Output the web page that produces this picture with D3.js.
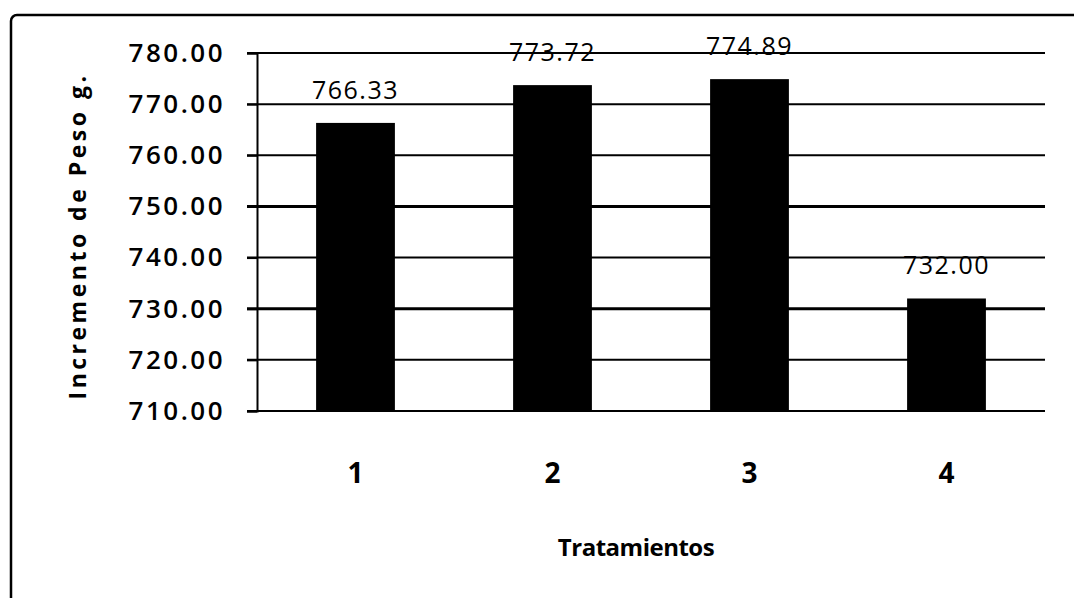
<!DOCTYPE html>
<html>
<head>
<meta charset="utf-8">
<script src="https://cdn.jsdelivr.net/npm/d3@7"></script>
<style>
  html, body { margin: 0; padding: 0; background: #fff; }
  svg { display: block; }
  text { font-family: "Open Sans", "DejaVu Sans", sans-serif; fill: #000; }
</style>
</head>
<body>
<svg id="chart" width="1074" height="598"></svg>
<script>
const categories = ["1", "2", "3", "4"];
const values = [766.33, 773.72, 774.89, 732.00];
const yTicks = [710, 720, 730, 740, 750, 760, 770, 780];
const yTitle = "Incremento de Peso g.";
const xTitle = "Tratamientos";

const W = 1074, H = 598;
const margin = { left: 257, right: 29, top: 53, bottom: 187 };
const svg = d3.select("#chart");

// frame
svg.append("rect")
  .attr("x", 11).attr("y", 15)
  .attr("width", W + 20).attr("height", H + 20)
  .attr("rx", 6)
  .attr("fill", "none").attr("stroke", "#000").attr("stroke-width", 2.5);

const x = d3.scaleBand()
  .domain(categories)
  .range([margin.left, W - margin.right])
  .paddingInner(0.6).paddingOuter(0.3);

const y = d3.scaleLinear()
  .domain([710, 780])
  .range([H - margin.bottom, margin.top]);

// gridlines
svg.append("g")
  .selectAll("line")
  .data(yTicks)
  .join("line")
  .attr("x1", margin.left - 10)
  .attr("x2", W - margin.right)
  .attr("y1", d => y(d)).attr("y2", d => y(d))
  .attr("stroke", "#000")
  .attr("stroke-width", d => (d === 750 || d === 730) ? 3 : 2);

// y axis
const yAxis = d3.axisLeft(y)
  .tickValues(yTicks)
  .tickSize(10)
  .tickPadding(22)
  .tickFormat(d => d.toFixed(2));
const gy = svg.append("g")
  .attr("transform", `translate(${margin.left},0)`)
  .call(yAxis);
gy.select(".domain").attr("stroke", "#000").attr("stroke-width", 2);
gy.selectAll(".tick line").attr("stroke", "#000").attr("stroke-width", 2);
gy.selectAll(".tick text")
  .style("font-family", "'Open Sans', sans-serif")
  .style("font-size", "26px")
  .style("font-weight", "600")
  .style("letter-spacing", "2.5px")
  .attr("fill", "#000");

// bars
svg.append("g")
  .selectAll("rect")
  .data(values)
  .join("rect")
  .attr("x", (d, i) => x(categories[i]))
  .attr("width", x.bandwidth())
  .attr("y", d => y(d))
  .attr("height", d => y(710) - y(d))
  .attr("fill", "#000");

// data labels
svg.append("g")
  .selectAll("text")
  .data(values)
  .join("text")
  .attr("x", (d, i) => x(categories[i]) + x.bandwidth() / 2)
  .attr("y", d => y(d) - 24)
  .attr("text-anchor", "middle")
  .style("font-size", "25px")
  .style("letter-spacing", "1.5px")
  .text(d => d.toFixed(2));

// x axis labels
const xAxis = d3.axisBottom(x).tickSize(0).tickPadding(52);
const gx = svg.append("g")
  .attr("transform", `translate(0,${H - margin.bottom})`)
  .call(xAxis);
gx.select(".domain").remove();
gx.selectAll(".tick text")
  .style("font-family", "'Open Sans', sans-serif")
  .style("font-size", "28px")
  .style("font-weight", "bold")
  .attr("fill", "#000");

// axis titles
svg.append("text")
  .attr("x", 636).attr("y", 556)
  .attr("text-anchor", "middle")
  .style("font-size", "24px")
  .style("font-weight", "bold")
  .style("letter-spacing", "-0.5px")
  .text(xTitle);

svg.append("text")
  .attr("transform", "translate(86,236) rotate(-90)")
  .attr("text-anchor", "middle")
  .style("font-size", "23px")
  .style("font-weight", "bold")
  .style("letter-spacing", "3.5px")
  .text(yTitle);
</script>
</body>
</html>
